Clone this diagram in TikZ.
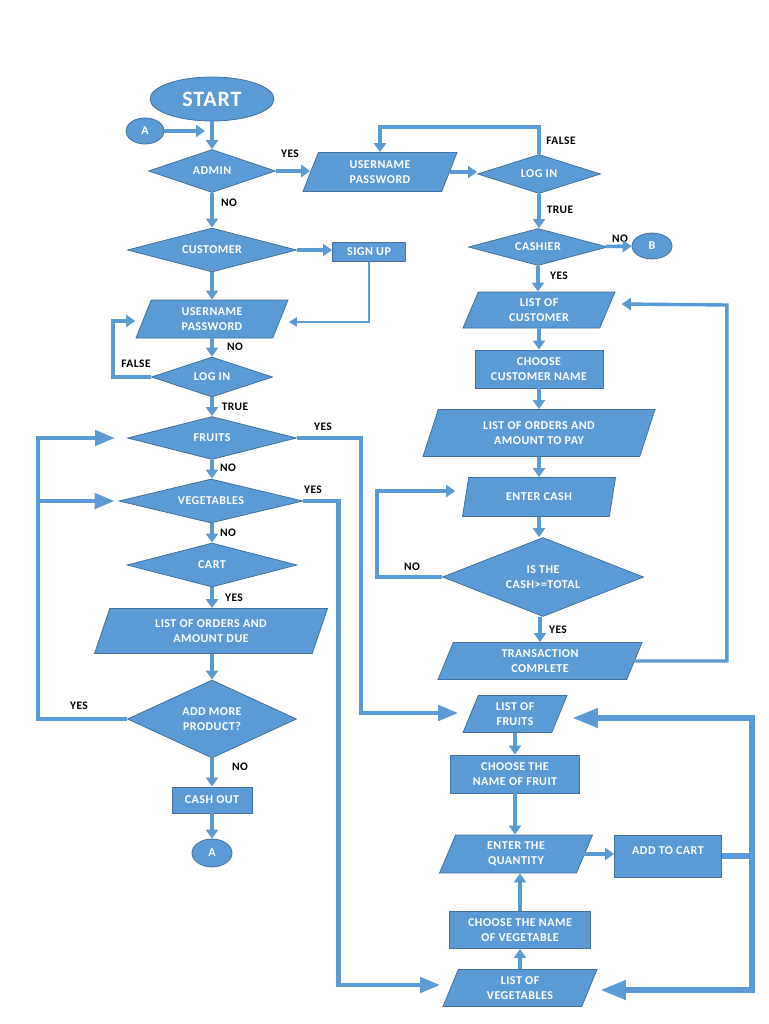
\documentclass[tikz,border=0pt]{standalone}
\usepackage{fontspec}
\newfontfamily\nf{Carlito}[LetterSpace=4]
\usetikzlibrary{shapes.geometric,arrows.meta,calc}
\definecolor{boxfill}{HTML}{5B9BD5}
\definecolor{boxline}{HTML}{41719C}
\definecolor{arr}{HTML}{5B9BD5}
\begin{document}
\begin{tikzpicture}[x=1pt,y=-1pt,
 base/.style={fill=boxfill, draw=boxline, line width=0.8pt, text=white, font=\nf\bfseries\fontsize{12}{14.5}\selectfont, align=center, inner sep=1pt},
 ell/.style 2 args={base, ellipse, minimum width=#1, minimum height=#2, inner sep=0pt},
 diam/.style 2 args={base, diamond, aspect=3, minimum width=#1, minimum height=#2, inner sep=0pt},
 box/.style 2 args={base, rectangle, minimum width=#1, minimum height=#2},
 para/.style 2 args={base, trapezium, trapezium left angle=58, trapezium right angle=122, trapezium stretches body, minimum width=#1, minimum height=#2},
 lbl/.style={font=\nf\bfseries\fontsize{11.5}{13}\selectfont, text=black, inner sep=0pt},
 conn/.style={draw=arr, line width=3.6pt, -{Triangle[length=9pt,width=12pt]}},
 medconn/.style={draw=arr, line width=3.4pt, -{Triangle[length=9pt,width=12pt]}},
 thinconn/.style={draw=arr, line width=2.2pt, -{Triangle[length=8pt,width=9pt]}},
 bigconn/.style={draw=arr, line width=4.5pt, -{Triangle[length=20pt,width=15pt]}},
 hugeconn/.style={draw=arr, line width=6.5pt, -{Triangle[length=26pt,width=18pt]}}]
\useasboundingbox (0,0) rectangle (768,1024);
\fill[white] (0,0) rectangle (768,1024);

% ---------- left column ----------
\node[ell={124}{44}, font=\nf\bfseries\fontsize{22}{24}\selectfont] (start) at (212,99) {START};
\node[ell={38}{26}] (a1) at (145,131) {A};
\coordinate (a1end) at (205,131);
\node[diam={127}{43}] (admin) at (212,171) {ADMIN};
\node[diam={169}{44}] (customer) at (212,250) {CUSTOMER};
\node[box={73}{19}] (signup) at (369,252) {SIGN UP};
\node[para={152}{38}] (up2) at (212,319) {USERNAME\\PASSWORD};
\node[diam={121}{40}] (login2) at (212,377) {LOG IN};
\node[diam={169}{43}] (fruits) at (212,438) {FRUITS};
\node[diam={184}{44}] (veg) at (211,501) {VEGETABLES};
\node[diam={170}{44}] (cart) at (212,565) {CART};
\node[para={233}{45}] (lod) at (211,631) {LIST OF ORDERS AND\\AMOUNT DUE};
\node[diam={169}{78}] (addmore) at (212,719) {ADD MORE\\PRODUCT?};
\node[box={80}{26}] (cashout) at (212,800) {CASH OUT};
\node[ell={40}{28}] (a2) at (212,853) {A};

% ---------- right column (admin) ----------
\node[para={154}{39}] (up1) at (380,172) {USERNAME\\PASSWORD};
\node[diam={123}{39}] (login1) at (539,174) {LOG IN};
\node[diam={139}{37}] (cashier) at (538,247) {CASHIER};
\node[ell={40}{26}] (b) at (652,246) {B};
\node[para={152}{36}] (loc) at (539,310) {LIST OF\\CUSTOMER};
\node[box={128}{38}] (ccn) at (539,369) {CHOOSE\\CUSTOMER NAME};
\node[para={232}{47}] (lop) at (539,433) {LIST OF ORDERS AND\\AMOUNT TO PAY};
\node[para={153}{39}] (ec) at (539,497) {ENTER CASH};
\node[diam={201}{79}] (chk) at (543,577) {IS THE\\CASH>=TOTAL};
\node[para={204}{37}] (tc) at (540,661) {TRANSACTION\\COMPLETE};

% ---------- bottom right ----------
\node[para={104}{37}] (lof) at (515,714) {LIST OF\\FRUITS};
\node[box={129}{38}] (cfn) at (515,774) {CHOOSE THE\\NAME OF FRUIT};
\node[para={153}{38}] (eq) at (516,854) {ENTER THE\\QUANTITY};
\node[box={107}{42}, text depth=10pt] (atc) at (668,856) {ADD TO CART};
\node[box={141}{37}] (cvn) at (520,930) {CHOOSE THE NAME\\OF VEGETABLE};
\node[para={154}{37}] (lov) at (520,988) {LIST OF\\VEGETABLES};

% ---------- labels ----------
\node[lbl] (l1) at (290,154) {YES};
\node[lbl] (l2) at (229,203) {NO};
\node[lbl] (l3) at (561,141) {FALSE};
\node[lbl] (l4) at (560,210) {TRUE};
\node[lbl] (l5) at (620,239) {NO};
\node[lbl] (l6) at (559,276) {YES};
\node[lbl] (l7) at (412,567) {NO};
\node[lbl] (l8) at (558,630) {YES};
\node[lbl] (l9) at (136,364) {FALSE};
\node[lbl] (l10) at (235,347) {NO};
\node[lbl] (l11) at (235,407) {TRUE};
\node[lbl] (l12) at (323,427) {YES};
\node[lbl] (l13) at (228,468) {NO};
\node[lbl] (l14) at (313,490) {YES};
\node[lbl] (l15) at (228,533) {NO};
\node[lbl] (l16) at (234,598) {YES};
\node[lbl] (l17) at (79,706) {YES};
\node[lbl] (l18) at (240,767) {NO};

% ---------- connectors: left ----------
\draw[conn] (start) -- (admin);
\draw[conn] (a1) -- (a1end);
\draw[conn] (admin.east) -- (admin.east -| up1.west);
\draw[conn] (admin) -- (customer);
\draw[conn] (customer.east) -- (customer.east -| signup.west);
\draw[conn] (customer) -- (up2);
\draw[thinconn] (signup.south) |- ([shift={(8,3)}]up2.east);
\draw[conn] (up2) -- (login2);
\draw[medconn] (login2.west) -- ++(-38,0) |- ([shift={(-8,2)}]up2.west);
\draw[conn] (login2) -- (fruits);
\draw[conn] (fruits) -- (fruits.south |- veg.north);
\draw[conn] (veg.south -| cart.north) -- (cart);
\draw[conn] (cart) -- (cart.south |- lod.north);
\draw[conn] (lod.south -| addmore.north) -- (addmore);
\draw[conn] (addmore) -- (cashout);
\draw[conn] (cashout) -- (a2);
\coordinate (lx) at (38,719);
\draw[bigconn] (addmore.west) -- (lx) |- ([xshift=-12pt]fruits.west);
\draw[bigconn] (lx |- veg.west) -- ([xshift=-4pt]veg.west);
\draw[bigconn] (fruits.east) -- ++(64,0) |- ([shift={(-12,-1)}]lof.west);
\draw[bigconn] (veg.east) -- ++(35,0) |- ([shift={(-10,-3)}]lov.west);

% ---------- connectors: right ----------
\draw[conn] (up1.east) -- (up1.east -| login1.west);
\draw[medconn] (login1.north) -- ++(0,-27) -| (up1.north);
\draw[conn] (login1) -- (login1.south |- cashier.north);
\draw[conn] (cashier) -- (b);
\draw[conn] (cashier) -- (cashier.south |- loc.north);
\draw[conn] (loc) -- (ccn);
\draw[conn] (ccn) -- (lop);
\draw[conn] (lop) -- (ec);
\draw[conn] (ec.south) -- (ec.south |- chk.north);
\draw[medconn] (chk.west) -- ++(-65,0) |- ([shift={(-10,-6)}]ec.west);
\draw[conn] (chk.south -| tc.north) -- (tc);
\draw[medconn] ([xshift=-8pt]tc.east) -| ++(100,-356) -- ([shift={(14,-6)}]loc.east);

% ---------- connectors: bottom ----------
\draw[conn] (lof) -- (lof.south |- cfn.north);
\draw[conn] (cfn) -- (cfn.south |- eq.north);
\draw[medconn] ([xshift=-8pt]eq.east) -- (eq.east -| atc.west);
\draw[conn] (cvn) -- (cvn.north |- eq.south);
\draw[conn] (lov) -- (cvn);
\coordinate (rc) at ([xshift=30pt]atc.east);
\draw[hugeconn] (atc.east) -- (rc) |- ([shift={(12,4)}]lof.east);
\draw[hugeconn] (rc) |- ([shift={(10,2)}]lov.east);
\end{tikzpicture}
\end{document}
